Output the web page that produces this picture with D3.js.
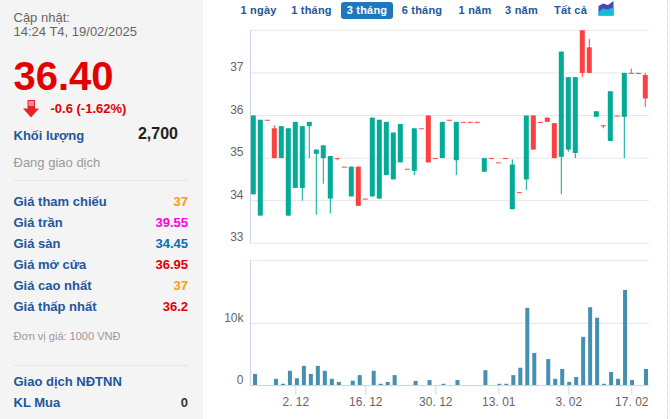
<!DOCTYPE html>
<html>
<head>
<meta charset="utf-8">
<script src="https://cdn.jsdelivr.net/npm/d3@7"></script>
<style>
html, body { margin: 0; padding: 0; background: #fff; overflow: hidden; }
svg { display: block; }
.side { font-family: "Liberation Sans", Arial, sans-serif; }
.axis { font-family: "Liberation Sans", Arial, sans-serif; font-size: 12px; fill: #666; }
</style>
</head>
<body>
<div id="chart"></div>
<script>
// trading days, left to right
var dates = ["22.11","25.11","26.11","27.11","28.11","29.11","2.12","3.12","4.12","5.12","6.12","9.12","10.12","11.12","12.12","13.12",
  "16.12","17.12","18.12","19.12","20.12","23.12","24.12","25.12","26.12","27.12","30.12","31.12","2.01","3.01","6.01","7.01","8.01","9.01","10.01",
  "13.01","14.01","15.01","16.01","17.01","20.01","21.01","22.01","23.01","24.01",
  "3.02","4.02","5.02","6.02","7.02","10.02","11.02","12.02","13.02","17.02","18.02","19.02"];
var open  = [34.15,33.65,35.9,35.7,35,33.65,34.3,34.3,35.75,35.1,35,34.05,35,34.8,34.1,34.8,34.05,34.1,34.05,34.6,34.5,34.9,34.75,34.7,35.7,36,35,
  35,35.9,34.95,35.85,35.85,35.85,34.68,35,34.9,35,33.8,34.2,34.5,36,35.85,35.95,35.82,35.03,35.2,35.12,38,37.6,35.97,35.77,35.4,36,35.97,37,37,36.95];
var high  = [36,35.9,35.9,35.77,35.75,35.7,35.85,35.75,35.85,35.2,35.3,35.05,35,34.8,34.8,34.8,34.05,35.95,35.9,35.85,35.6,35.8,34.75,35.7,35.7,36,35,
  35.85,35.9,35.85,35.85,35.85,35.85,35,35,34.9,35,34.97,34.2,36,36,35.85,35.95,35.82,37.5,36.9,36.9,38,37.8,36.1,35.77,36.57,36,37,37.1,37,37];
var low   = [34.15,33.65,35.9,35,35,33.65,34.3,34,35,33.67,34.4,33.7,34.95,34.8,34.1,33.88,34.05,34.1,34.05,34.6,34.5,34.9,34.75,34.6,35.7,34.9,35,
  35,35.9,34.6,35.85,35.85,35.85,34.68,35,34.9,35,33.8,34.2,34.25,35.2,35.85,35.85,35,34.15,35.15,35,36.9,37,35.97,35.7,35.4,36,35,37,37,36.2];
var close = [36,35.9,35.9,35,35.75,35.7,35.85,35.75,35.85,35.2,35.3,35.05,35,34.8,34.8,33.88,34.05,35.95,35.9,35.85,35.6,35.8,34.75,35.7,35.7,34.9,35,
  35.85,35.9,35.85,35.85,35.85,35.85,35,35,34.9,35,34.85,34.2,36,35.2,35.85,35.85,35,37.5,36.9,36.9,37,37,36.1,35.75,36.57,36,37,37,37,36.4];
var volume = [1800,0,0,1000,200,2300,1100,3100,1800,3100,2300,1000,500,0,700,1600,0,2300,200,500,1600,0,0,650,0,800,0,
  200,0,800,0,0,0,2400,0,200,200,1600,2800,12500,5200,0,4200,1000,2600,500,1300,7800,12600,10900,200,2100,1000,15400,800,0,2600];

var priceTicks = [33,34,35,36,37];
var volumeTicks = [0,10000];
var dateTicks = ["2.12","16.12","30.12","13.01","3.02","17.02"];
var rangeLabels = ["1 ngày","1 tháng","3 tháng","6 tháng","1 năm","3 năm","Tất cả"];
var rangeCenters = [258.5,311.5,367,422,475,521.5,570.5];
var rangeSelected = "3 tháng";

var infoLabels = ["Giá tham chiếu","Giá trần","Giá sàn","Giá mở cửa","Giá cao nhất","Giá thấp nhất"];
var infoValues = ["37","39.55","34.45","36.95","37","36.2"];
var infoColors = ["#ff9a0d","#ff00e6","#0a70a8","#e30000","#ff9a0d","#e30000"];

const width = 671, height = 419;
const plotLeft = 250.5, plotRight = 649;

var svg = d3.select("#chart").append("svg").attr("width", width).attr("height", height);

// scales, the two panes do not line up exactly in the reference
var xPrice = d3.scalePoint().domain(dates).range([253.3, 645.3]);
var xVol = d3.scalePoint().domain(dates).range([255, 646]);
var yPrice = d3.scaleLinear().domain([33, 38]).range([243.3, 30.3]);
var yVol = d3.scaleLinear().domain([0, 20200]).range([385, 260.3]);

// --- left panel ---
var side = svg.append("g").attr("class", "side");
side.append("rect").attr("width", 203).attr("height", height).attr("fill", "#f4f4f4");

function sideText(x, y, txt, size, color, bold, anchor) {
  return side.append("text").attr("x", x).attr("y", y).text(txt)
    .attr("font-size", size).attr("fill", color)
    .attr("font-weight", bold ? "bold" : "normal")
    .attr("text-anchor", anchor || "start");
}
const navy = "#23569c";
sideText(13.5, 21.5, "Cập nhật:", 13, "#666");
sideText(13.5, 36, "14:24 T4, 19/02/2025", 13, "#666");
sideText(13.5, 90, "36.40", 40, "#e30000", true);
sideText(50.5, 113, "-0.6 (-1.62%)", 13, "#e30000", true);
sideText(13.5, 140, "Khối lượng", 13, navy, true);
sideText(178, 139, "2,700", 16, "#222", true, "end");
sideText(13.5, 167, "Đang giao dịch", 13, "#999");
side.append("line").attr("x1", 13).attr("x2", 188).attr("y1", 180.5).attr("y2", 180.5).attr("stroke", "#e6e6e6");

// down arrow next to the change
side.append("path").attr("d", "M27.5 100H35V108.5H39L31 117.5L23 108.5H27.5Z").attr("fill", "#e8222a");
side.append("path").attr("d", "M28.5 101H34V106H28.5Z").attr("fill", "#fa8c8c");

infoLabels.forEach(function(d, i) {
  var y = 206 + i * 21;
  sideText(13.5, y, d, 13, navy, true);
  sideText(188, y, infoValues[i], 13, infoColors[i], true, "end");
});
sideText(13.5, 340, "Đơn vị giá: 1000 VNĐ", 11, "#999");
side.append("line").attr("x1", 13).attr("x2", 188).attr("y1", 365.5).attr("y2", 365.5).attr("stroke", "#e6e6e6");
sideText(13.5, 386, "Giao dịch NĐTNN", 13, navy, true);
sideText(13.5, 407, "KL Mua", 13, navy, true);
sideText(188, 407, "0", 13, "#333", true, "end");
// this row runs off the bottom of the window in the reference too
sideText(13.5, 427.5, "KL Bán", 13, navy, true);
sideText(188, 427.5, "0", 13, "#333", true, "end");

// --- range buttons ---
var nav = svg.append("g").attr("class", "side");
nav.append("rect").attr("x", 341).attr("y", 2).attr("width", 52).attr("height", 17).attr("rx", 3).attr("fill", "#1f78bd");
nav.selectAll("text").data(rangeLabels).join("text")
  .attr("x", function(d, i) { return rangeCenters[i]; })
  .attr("y", 14)
  .attr("text-anchor", "middle")
  .attr("font-size", 11)
  .attr("font-weight", "bold")
  .attr("letter-spacing", 0.2)
  .attr("fill", function(d) { return d == rangeSelected ? "#fff" : navy; })
  .text(function(d) { return d; });

// little area chart icon
var icon = svg.append("g");
icon.append("path").attr("d", "M598.5 15.5V6L603 3.5L608 5L613.5 1V15.5Z").attr("fill", "#4b45b5");
icon.append("path").attr("d", "M598.5 15.5V12L603 8.5L608 9.5L613.5 7V15.5Z").attr("fill", "#12bcdc");

// --- grid lines ---
svg.append("g").selectAll("line").data(priceTicks.concat([38])).join("line")
  .attr("x1", plotLeft).attr("x2", plotRight)
  .attr("y1", function(d) { return yPrice(d); }).attr("y2", function(d) { return yPrice(d); })
  .attr("stroke", "#e6e6e6");
svg.append("g").selectAll("line").data([10000, 20200]).join("line")
  .attr("x1", plotLeft).attr("x2", plotRight)
  .attr("y1", function(d) { return yVol(d); }).attr("y2", function(d) { return yVol(d); })
  .attr("stroke", "#e6e6e6");

// left axis lines
svg.append("line").attr("x1", plotLeft).attr("x2", plotLeft).attr("y1", 30.3).attr("y2", 243.3).attr("stroke", "#ccd6eb");
svg.append("line").attr("x1", plotLeft).attr("x2", plotLeft).attr("y1", 260.3).attr("y2", 385).attr("stroke", "#ccd6eb");

// --- candles ---
const green = "#04ab96", red = "#ff4040";
function candleColor(i) { return close[i] > open[i] ? green : red; }
var candles = svg.append("g");
candles.selectAll("line").data(dates).join("line")
  .attr("x1", function(d) { return xPrice(d); })
  .attr("x2", function(d) { return xPrice(d); })
  .attr("y1", function(d, i) { return yPrice(high[i]); })
  .attr("y2", function(d, i) { return yPrice(low[i]); })
  .attr("stroke", function(d, i) { return candleColor(i); })
  .attr("stroke-width", 1);
candles.selectAll("rect").data(dates).join("rect")
  .attr("x", function(d) { return xPrice(d) - 2.5; })
  .attr("width", 5)
  .attr("y", function(d, i) { return yPrice(Math.max(open[i], close[i])); })
  .attr("height", function(d, i) { return Math.max(1, Math.abs(yPrice(open[i]) - yPrice(close[i]))); })
  .attr("fill", function(d, i) { return candleColor(i); });

// --- volume bars ---
svg.append("g").selectAll("rect").data(dates).join("rect")
  .attr("x", function(d) { return xVol(d) - 2; })
  .attr("width", 4)
  .attr("y", function(d, i) { return yVol(volume[i]); })
  .attr("height", function(d, i) { return yVol(0) - yVol(volume[i]); })
  .attr("fill", "#448fb2");

// --- axes text ---
var labels = svg.append("g").attr("class", "axis");
labels.selectAll("text.p").data(priceTicks).join("text").attr("class", "p")
  .attr("x", 243.5).attr("text-anchor", "end")
  .attr("y", function(d) { return yPrice(d) - 2; })
  .text(function(d) { return d; });
labels.selectAll("text.v").data(volumeTicks).join("text").attr("class", "v")
  .attr("x", 243.5).attr("text-anchor", "end")
  .attr("y", function(d) { return yVol(d) - 1; })
  .text(function(d) { return d == 0 ? "0" : (d / 1000) + "k"; });

var xAxis = svg.append("g").attr("transform", "translate(0,385.5)")
  .call(d3.axisBottom(xPrice).tickValues(dateTicks).tickSize(9).tickPadding(3)
    .tickFormat(function(d) { return d.replace(".", ". "); }));
xAxis.select(".domain").remove();
xAxis.selectAll("line").attr("stroke", "#ccd6eb");
xAxis.attr("font-family", null).attr("font-size", null);
xAxis.selectAll("text").attr("class", "axis").attr("fill", null);
svg.append("line").attr("x1", plotLeft).attr("x2", plotRight).attr("y1", 385.5).attr("y2", 385.5).attr("stroke", "#ccd6eb");

// dotted edge on the right
svg.append("line").attr("x1", 667.5).attr("x2", 667.5).attr("y1", 0).attr("y2", height)
  .attr("stroke", "#ccc").attr("stroke-dasharray", "1,1");
</script>
</body>
</html>
